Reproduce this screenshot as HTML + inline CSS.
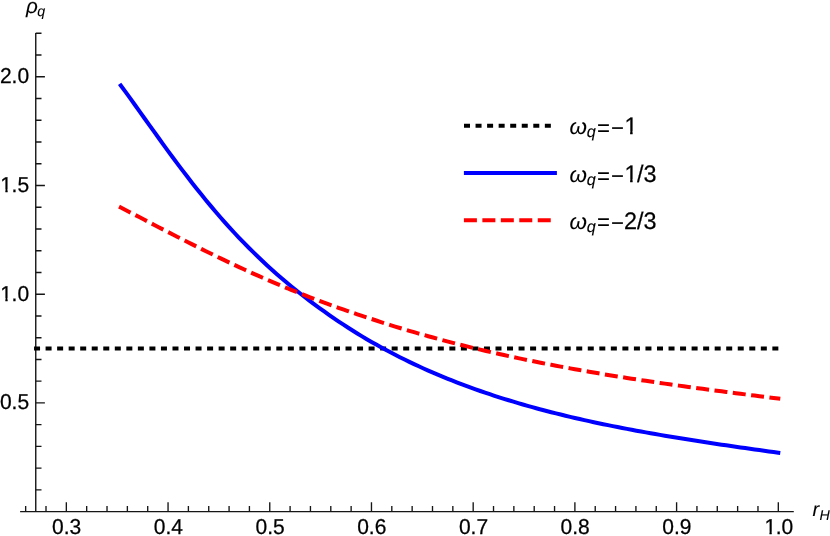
<!DOCTYPE html>
<html><head><meta charset="utf-8"><title>plot</title>
<style>
html,body{margin:0;padding:0;background:#fff;}
body{width:830px;height:536px;overflow:hidden;}
svg{display:block;}
text{font-family:"Liberation Sans",sans-serif;fill:#000;stroke:#000;stroke-width:0.25px;text-rendering:geometricPrecision;}
</style></head><body>
<svg width="830" height="536" viewBox="0 0 830 536">
<rect width="830" height="536" fill="#fff"/>
<line x1="20.1" y1="511.6" x2="793.8" y2="511.6" stroke="#161616" stroke-width="1.4"/>
<line x1="35.75" y1="33.0" x2="35.75" y2="511.6" stroke="#161616" stroke-width="1.4"/>
<path d="M25.66,511.6v-5.5 M46.00,511.6v-5.5 M66.34,511.6v-9.3 M86.68,511.6v-5.5 M107.02,511.6v-5.5 M127.37,511.6v-5.5 M147.71,511.6v-5.5 M168.05,511.6v-9.3 M188.39,511.6v-5.5 M208.73,511.6v-5.5 M229.08,511.6v-5.5 M249.42,511.6v-5.5 M269.76,511.6v-9.3 M290.10,511.6v-5.5 M310.44,511.6v-5.5 M330.79,511.6v-5.5 M351.13,511.6v-5.5 M371.47,511.6v-9.3 M391.81,511.6v-5.5 M412.15,511.6v-5.5 M432.50,511.6v-5.5 M452.84,511.6v-5.5 M473.18,511.6v-9.3 M493.52,511.6v-5.5 M513.86,511.6v-5.5 M534.21,511.6v-5.5 M554.55,511.6v-5.5 M574.89,511.6v-9.3 M595.23,511.6v-5.5 M615.57,511.6v-5.5 M635.92,511.6v-5.5 M656.26,511.6v-5.5 M676.60,511.6v-9.3 M696.94,511.6v-5.5 M717.28,511.6v-5.5 M737.63,511.6v-5.5 M757.97,511.6v-5.5 M778.31,511.6v-9.3 M35.75,489.92h5.75 M35.75,468.17h5.75 M35.75,446.43h5.75 M35.75,424.68h5.75 M35.75,402.94h9.15 M35.75,381.19h5.75 M35.75,359.45h5.75 M35.75,337.70h5.75 M35.75,315.96h5.75 M35.75,294.21h9.15 M35.75,272.47h5.75 M35.75,250.72h5.75 M35.75,228.98h5.75 M35.75,207.23h5.75 M35.75,185.49h9.15 M35.75,163.74h5.75 M35.75,142.00h5.75 M35.75,120.25h5.75 M35.75,98.50h5.75 M35.75,76.76h9.15 M35.75,55.02h5.75 M35.75,33.27h5.75" stroke="#161616" stroke-width="1.35" fill="none"/>
<defs><clipPath id="c1"><path d="M-5,-40H40V-2.469H7.337V4H5.081V-2.469H-5Z"/></clipPath><clipPath id="c2"><path d="M-5,-40H40V-2.648H8.152V4H5.684V-2.648H-5Z"/></clipPath></defs>
<g style="will-change:transform">
<text transform="translate(52.05,534.30) scale(1,1.025)" font-size="21.0">0.3</text>
<text transform="translate(153.76,534.30) scale(1,1.025)" font-size="21.0">0.4</text>
<text transform="translate(255.47,534.30) scale(1,1.025)" font-size="21.0">0.5</text>
<text transform="translate(357.18,534.30) scale(1,1.025)" font-size="21.0">0.6</text>
<text transform="translate(458.88,534.30) scale(1,1.025)" font-size="21.0">0.7</text>
<text transform="translate(560.59,534.30) scale(1,1.025)" font-size="21.0">0.8</text>
<text transform="translate(662.31,534.30) scale(1,1.025)" font-size="21.0">0.9</text>
<text transform="translate(764.39,534.30) scale(1,1.025)" font-size="21.0" clip-path="url(#c1)">1</text>
<text transform="translate(775.69,534.30) scale(1,1.025)" font-size="21.0">.0</text>
<text transform="translate(-0.09,409.24) scale(1,1.025)" font-size="21.0">0.5</text>
<text transform="translate(0.29,300.51) scale(1,1.025)" font-size="21.0" clip-path="url(#c1)">1</text>
<text transform="translate(11.59,300.51) scale(1,1.025)" font-size="21.0">.0</text>
<text transform="translate(0.29,191.79) scale(1,1.025)" font-size="21.0" clip-path="url(#c1)">1</text>
<text transform="translate(11.59,191.79) scale(1,1.025)" font-size="21.0">.5</text>
<text transform="translate(-0.09,83.06) scale(1,1.025)" font-size="21.0">2.0</text>
<text font-style="italic" style="stroke-width:0.1px"><tspan x="26.0" y="13.3" font-size="20.6">ρ</tspan><tspan x="37.28" y="15.6" font-size="14.2">q</tspan></text>
<text font-style="italic" style="stroke-width:0.1px"><tspan x="812.5" y="516.2" font-size="20">r</tspan><tspan x="819.4" y="519.8" font-size="14.2">H</tspan></text>
</g>
<line x1="34.05" y1="348.5" x2="778.5" y2="348.5" stroke="#000" stroke-width="4" stroke-dasharray="6 5.536"/>
<path d="M119.62,83.86 L120.80,85.48 L125.53,91.92 L130.26,98.44 L134.99,105.01 L139.72,111.61 L144.45,118.23 L149.18,124.85 L153.91,131.45 L158.64,138.03 L163.37,144.57 L168.10,151.06 L172.83,157.49 L177.56,163.85 L182.29,170.14 L187.02,176.33 L191.75,182.44 L196.48,188.46 L201.21,194.37 L205.94,200.18 L210.67,205.88 L215.40,211.47 L220.13,216.96 L224.86,222.33 L229.59,227.58 L234.33,232.73 L239.06,237.76 L243.79,242.68 L248.52,247.49 L253.25,252.19 L257.98,256.78 L262.71,261.27 L267.44,265.66 L272.17,269.95 L276.90,274.14 L281.63,278.24 L286.36,282.25 L291.09,286.17 L295.82,290.01 L300.55,293.77 L305.28,297.45 L310.01,301.06 L314.74,304.60 L319.47,308.06 L324.20,311.46 L328.93,314.80 L333.66,318.07 L338.39,321.28 L343.12,324.43 L347.85,327.52 L352.58,330.54 L357.31,333.48 L362.04,336.36 L366.77,339.17 L371.50,341.92 L376.23,344.60 L380.96,347.23 L385.69,349.80 L390.42,352.31 L395.15,354.77 L399.88,357.18 L404.61,359.53 L409.34,361.84 L414.07,364.09 L418.80,366.30 L423.53,368.46 L428.26,370.57 L432.99,372.63 L437.72,374.65 L442.45,376.63 L447.18,378.57 L451.92,380.46 L456.65,382.31 L461.38,384.13 L466.11,385.90 L470.84,387.64 L475.57,389.34 L480.30,391.00 L485.03,392.63 L489.76,394.23 L494.49,395.79 L499.22,397.32 L503.95,398.81 L508.68,400.28 L513.41,401.71 L518.14,403.12 L522.87,404.50 L527.60,405.85 L532.33,407.17 L537.06,408.46 L541.79,409.73 L546.52,410.98 L551.25,412.20 L555.98,413.39 L560.71,414.56 L565.44,415.71 L570.17,416.84 L574.90,417.95 L579.63,419.04 L584.36,420.10 L589.09,421.15 L593.82,422.18 L598.55,423.19 L603.28,424.18 L608.01,425.15 L612.74,426.11 L617.47,427.05 L622.20,427.98 L626.93,428.89 L631.66,429.78 L636.39,430.67 L641.12,431.54 L645.85,432.39 L650.58,433.23 L655.31,434.06 L660.04,434.88 L664.77,435.69 L669.51,436.49 L674.24,437.27 L678.97,438.05 L683.70,438.82 L688.43,439.57 L693.16,440.32 L697.89,441.06 L702.62,441.79 L707.35,442.52 L712.08,443.24 L716.81,443.95 L721.54,444.65 L726.27,445.35 L731.00,446.04 L735.73,446.73 L740.46,447.41 L745.19,448.09 L749.92,448.76 L754.65,449.43 L759.38,450.09 L764.11,450.76 L768.84,451.42 L773.57,452.07 L778.30,452.73 L780.28,453.00" stroke="#0000ff" stroke-width="4" fill="none" stroke-linejoin="round"/>
<path d="M119.02,206.64 L120.80,207.56 L125.53,210.00 L130.26,212.44 L134.99,214.89 L139.72,217.35 L144.45,219.80 L149.18,222.26 L153.91,224.72 L158.64,227.17 L163.37,229.62 L168.10,232.06 L172.83,234.49 L177.56,236.92 L182.29,239.33 L187.02,241.74 L191.75,244.13 L196.48,246.50 L201.21,248.86 L205.94,251.21 L210.67,253.54 L215.40,255.85 L220.13,258.14 L224.86,260.41 L229.59,262.66 L234.33,264.89 L239.06,267.10 L243.79,269.28 L248.52,271.44 L253.25,273.58 L257.98,275.70 L262.71,277.79 L267.44,279.85 L272.17,281.89 L276.90,283.90 L281.63,285.89 L286.36,287.85 L291.09,289.79 L295.82,291.70 L300.55,293.58 L305.28,295.44 L310.01,297.28 L314.74,299.09 L319.47,300.87 L324.20,302.63 L328.93,304.36 L333.66,306.07 L338.39,307.76 L343.12,309.43 L347.85,311.07 L352.58,312.69 L357.31,314.29 L362.04,315.87 L366.77,317.43 L371.50,318.98 L376.23,320.52 L380.96,322.05 L385.69,323.57 L390.42,325.07 L395.15,326.55 L399.88,328.00 L404.61,329.42 L409.34,330.82 L414.07,332.19 L418.80,333.55 L423.53,334.89 L428.26,336.21 L432.99,337.52 L437.72,338.81 L442.45,340.08 L447.18,341.33 L451.92,342.57 L456.65,343.79 L461.38,344.99 L466.11,346.17 L470.84,347.34 L475.57,348.49 L480.30,349.62 L485.03,350.74 L489.76,351.84 L494.49,352.93 L499.22,354.00 L503.95,355.05 L508.68,356.10 L513.41,357.12 L518.14,358.13 L522.87,359.13 L527.60,360.11 L532.33,361.08 L537.06,362.04 L541.79,362.98 L546.52,363.91 L551.25,364.83 L555.98,365.73 L560.71,366.63 L565.44,367.51 L570.17,368.37 L574.90,369.23 L579.63,370.07 L584.36,370.91 L589.09,371.73 L593.82,372.54 L598.55,373.34 L603.28,374.14 L608.01,374.92 L612.74,375.69 L617.47,376.45 L622.20,377.20 L626.93,377.95 L631.66,378.68 L636.39,379.41 L641.12,380.13 L645.85,380.84 L650.58,381.54 L655.31,382.24 L660.04,382.93 L664.77,383.61 L669.51,384.29 L674.24,384.95 L678.97,385.62 L683.70,386.27 L688.43,386.92 L693.16,387.57 L697.89,388.21 L702.62,388.85 L707.35,389.48 L712.08,390.10 L716.81,390.73 L721.54,391.35 L726.27,391.96 L731.00,392.57 L735.73,393.18 L740.46,393.79 L745.19,394.39 L749.92,395.00 L754.65,395.60 L759.38,396.19 L764.11,396.79 L768.84,397.39 L773.57,397.98 L778.30,398.57 L780.28,398.82" stroke="#ff0000" stroke-width="4" fill="none" stroke-linejoin="round" stroke-dasharray="13 5.46"/>
<line x1="464" y1="125.7" x2="551.2" y2="125.7" stroke="#000" stroke-width="4" stroke-dasharray="6 5.55"/>
<line x1="463.9" y1="173" x2="556.9" y2="173" stroke="#0000ff" stroke-width="4"/>
<line x1="463.9" y1="220.2" x2="551.3" y2="220.2" stroke="#ff0000" stroke-width="4" stroke-dasharray="13 5.46"/>
<g style="will-change:transform">
<text font-style="italic" style="stroke-width:0.1px"><tspan x="569.4" y="134.20000000000002" font-size="22.4">ω</tspan><tspan x="586.8" y="137.3" font-size="16.2">q</tspan></text>
<text transform="translate(597.04,135.65) scale(0.95,1.02)" font-size="23.4" style="stroke-width:0.05px">=</text>
<text transform="translate(611.00,136.10) scale(0.95,1.02)" font-size="23.4" style="stroke-width:0.05px">−</text>
<text transform="translate(624.45,133.90) scale(1,1.02)" font-size="23.4" clip-path="url(#c2)">1</text>
<text font-style="italic" style="stroke-width:0.1px"><tspan x="569.4" y="182.20000000000002" font-size="22.4">ω</tspan><tspan x="586.8" y="185.3" font-size="16.2">q</tspan></text>
<text transform="translate(597.04,183.65) scale(0.95,1.02)" font-size="23.4" style="stroke-width:0.05px">=</text>
<text transform="translate(611.00,184.10) scale(0.95,1.02)" font-size="23.4" style="stroke-width:0.05px">−</text>
<text transform="translate(624.45,181.90) scale(1,1.02)" font-size="23.4" clip-path="url(#c2)">1</text>
<text transform="translate(637.04,181.90) scale(1,1.02)" font-size="23.4">/3</text>
<text font-style="italic" style="stroke-width:0.1px"><tspan x="569.4" y="228.9" font-size="22.4">ω</tspan><tspan x="586.8" y="232.0" font-size="16.2">q</tspan></text>
<text transform="translate(597.04,230.35) scale(0.95,1.02)" font-size="23.4" style="stroke-width:0.05px">=</text>
<text transform="translate(611.00,230.80) scale(0.95,1.02)" font-size="23.4" style="stroke-width:0.05px">−</text>
<text transform="translate(624.03,228.60) scale(1,1.02)" font-size="23.4">2/3</text>
</g>
</svg>
</body></html>
